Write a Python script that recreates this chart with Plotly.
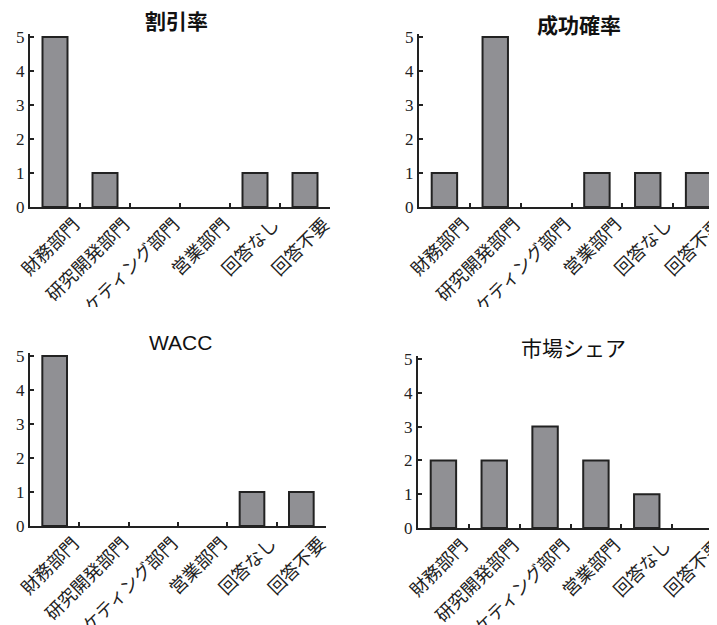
import plotly.graph_objects as go
from plotly.subplots import make_subplots

categories = ["財務部門", "研究開発部門", "マーケティング部門", "営業部門", "回答なし", "回答不要"]
titles = ["割引率", "成功確率", "WACC", "市場シェア"]
discount_rate = [5, 1, 0, 0, 1, 1]
success_prob = [1, 5, 0, 1, 1, 1]
wacc = [5, 0, 0, 0, 1, 1]
market_share = [2, 2, 3, 2, 1, 0]
y_ticks = [0, 1, 2, 3, 4, 5]

series = [discount_rate, success_prob, wacc, market_share]

W, H = 717, 625
OFF = 8  # page body margin


def px(x):
    return (x - OFF) / W


def py(y):
    return 1 - (y - OFF) / H


fig = make_subplots(rows=2, cols=2)

# panel geometry in reference pixels: (x_left, x_right, y_zero_px, y_five_px)
panels = [
    (30, 330, 207, 37),
    (419, 724, 207, 37),
    (30, 326, 526, 356),
    (418, 723, 528, 359),
]
title_pos = [(176.5, 21.7, True), (578.5, 25.8, True), (180, 342.5, False), (573.5, 348, False)]
ymax = 5.08
serif = "Liberation Serif, Noto Sans CJK JP, serif"
sans = "Liberation Sans, Noto Sans CJK JP, sans-serif"

for i, (vals, (xl, xr, y0, y5)) in enumerate(zip(series, panels)):
    r, c = i // 2 + 1, i % 2 + 1
    fig.add_trace(go.Bar(x=categories, y=vals,
                         marker=dict(color="#909094",
                                     line=dict(color="#222222",
                                               width=[2 if v > 0 else 0 for v in vals])),
                         showlegend=False), row=r, col=c)
    per = (y0 - y5) / 5.0
    ytop = y0 - per * ymax
    xa = "xaxis" if i == 0 else f"xaxis{i+1}"
    ya = "yaxis" if i == 0 else f"yaxis{i+1}"
    fig.layout[xa].update(domain=[px(xl), min(px(xr), 1)], range=[-0.5, 5.5], automargin=False,
                          showline=True, linecolor="#222222", linewidth=2,
                          ticks="inside", tickson="boundaries", ticklen=4,
                          tickcolor="#222222", tickwidth=2, tickangle=-45,
                          ticklabelshift=19, ticklabelstandoff=-2,
                          showgrid=False, zeroline=False,
                          tickfont=dict(family=serif, size=18, color="#222222"))
    fig.layout[ya].update(domain=[py(y0), py(ytop)], range=[0, ymax], automargin=False,
                          showline=True, linecolor="#222222", linewidth=2,
                          ticks="inside", ticklen=4, tickcolor="#222222", tickwidth=2,
                          tickvals=y_ticks, showgrid=False, zeroline=False,
                          tickfont=dict(family="Liberation Serif, serif", size=17, color="#222222"))
    tx, ty, bold = title_pos[i]
    fig.add_annotation(text=f"<b>{titles[i]}</b>" if bold else titles[i],
                       x=px(tx), y=py(ty), xref="paper", yref="paper",
                       showarrow=False, xanchor="center", yanchor="middle",
                       font=dict(family=sans, size=21, color="#111111"))

# crop band between upper and lower halves (original figure was cut here)
fig.add_shape(type="rect", xref="paper", yref="paper", x0=0, x1=1,
              y0=py(333), y1=py(307), fillcolor="white",
              line=dict(width=0), layer="above")

fig.update_layout(width=W, height=H, margin=dict(l=0, r=0, t=0, b=0),
                  paper_bgcolor="white", plot_bgcolor="white", bargap=0.5)
fig.write_html("out.html")
